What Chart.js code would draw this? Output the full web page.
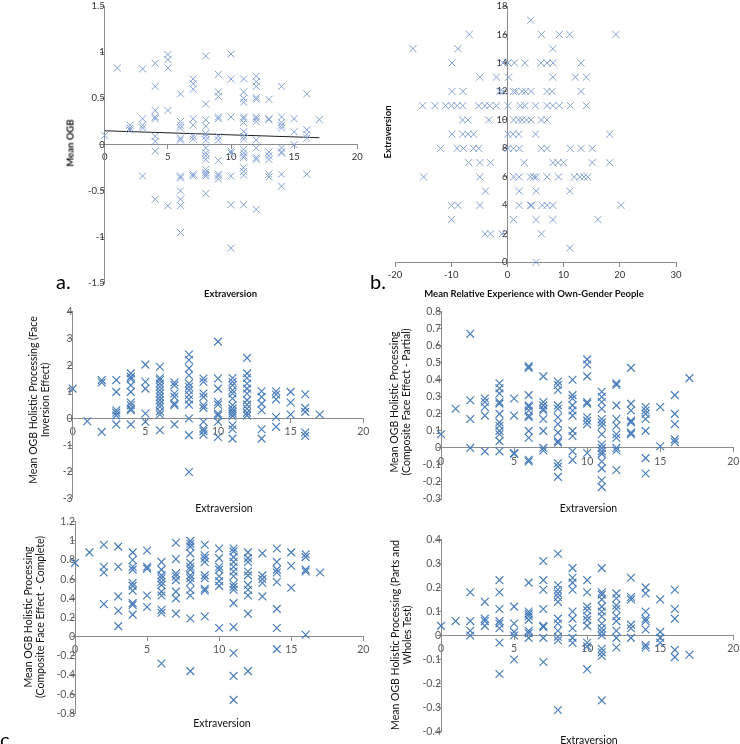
<!DOCTYPE html>
<html>
<head>
<meta charset="utf-8">
<script src="https://cdn.jsdelivr.net/npm/chart.js@4.4.1/dist/chart.umd.min.js"></script>
<style>
  body { margin: 0; background: #fff; width: 740px; height: 744px; overflow: hidden; position: relative; font-family: Lato, sans-serif; }
  canvas { position: absolute; }
  .t { position: absolute; white-space: nowrap; transform: translate(-50%, -50%); color: #000; }
  .v { transform: translate(-50%, -50%) rotate(-90deg); text-align: center; }
  .b { font-weight: bold; font-size: 9.5px; color: #111; }
  .n { font-size: 10.5px; line-height: 12px; color: #111; }
  .tag { position: absolute; font-size: 20px; line-height: 20px; color: #000; }
</style>
</head>
<body>
<canvas id="ogb"></canvas>
<canvas id="exp"></canvas>
<canvas id="inv"></canvas>
<canvas id="part"></canvas>
<canvas id="comp"></canvas>
<canvas id="pw"></canvas>

<div class="t v b" style="left:69.5px; top:143px">Mean OGB</div>
<div class="t b" style="left:230.5px; top:292.5px">Extraversion</div>
<div class="tag" style="left:56px; top:271px">a.</div>

<div class="t v b" style="left:386.5px; top:132px">Extraversion</div>
<div class="t b" style="left:534px; top:292.5px">Mean Relative Experience with Own-Gender People</div>
<div class="tag" style="left:370px; top:271px">b.</div>

<div class="t v n" style="left:38.5px; top:400px">Mean OGB Holistic Processing (Face<br>Inversion Effect)</div>
<div class="t n" style="left:224px; top:508px">Extraversion</div>

<div class="t v n" style="left:400px; top:402px">Mean OGB Holistic Processing<br>(Composite Face Effect - Partial)</div>
<div class="t n" style="left:588.5px; top:507.5px">Extraversion</div>

<div class="t v n" style="left:34px; top:617px">Mean OGB Holistic Processing<br>(Composite Face Effect - Complete)</div>
<div class="t n" style="left:222px; top:722.5px">Extraversion</div>
<div class="tag" style="left:0px; top:729px">c.</div>

<div class="t v n" style="left:400.5px; top:635px">Mean OGB Holistic Processing (Parts and<br>Wholes Test)</div>
<div class="t n" style="left:589px; top:740px">Extraversion</div>

<script>
// every group below is indexed by extraversion score (0..17)
const ogbMean = [
  [0.1], [0.83], [0.21, 0.18, 0.16], [0.82, 0.28, 0.21, 0.18, -0.34],
  [0.88, 0.63, 0.37, 0.3, 0.28, 0.09, 0.035, -0.07, -0.59],
  [0.975, 0.92, 0.83, 0.37, -0.66],
  [0.55, 0.25, 0.21, 0.18, 0.07, 0.05, -0.34, -0.36, -0.5, -0.59, -0.66, -0.95],
  [0.71, 0.66, 0.6, 0.28, 0.21, 0.09, 0.06, -0.32, -0.34],
  [0.96, 0.44, 0.27, 0.2, 0.12, 0.09, 0.05, -0.035, -0.09, -0.12, -0.16, -0.27, -0.3, -0.32, -0.34, -0.53],
  [0.76, 0.57, 0.52, 0.3, 0.28, 0.09, 0.05, -0.17, -0.32, -0.34, -0.37],
  [0.98, 0.71, 0.3, -0.07, -0.09, -0.34, -0.65, -1.12],
  [0.71, 0.57, 0.5, 0.46, 0.3, 0.28, 0.24, 0.14, 0.09, 0.06, -0.05, -0.09, -0.12, -0.14, -0.25, -0.29, -0.33, -0.65],
  [0.74, 0.68, 0.63, 0.51, 0.49, 0.3, 0.28, 0.25, 0.05, -0.035, -0.14, -0.16, -0.7],
  [0.49, 0.28, 0.27, -0.08, -0.12, -0.16, -0.32, -0.35],
  [0.63, 0.3, 0.24, 0.21, 0.18, -0.035, -0.08, -0.09, -0.32, -0.45],
  [0.28, 0.14, 0.0],
  [0.55, 0.16, 0.11, 0.07, -0.32],
  [0.27]
]
const ogbTrend = [{ x: 0, y: 0.15 }, { x: 17, y: 0.075 }]

// relative experience values for each extraversion score
const relExperience = [
  [5.1], [11.1], [-4.0, -3.0, -0.95, 6.05], [-9.95, 1.1, 5.1, 8.1, 16.1],
  [-9.95, -8.8, -4.9, 2.1, 4.1, 4.3, 6.2, 7.05, 8.1, 20.2],
  [-3.9, 2.1, 5.1, 11.1],
  [-14.9, -4.9, 1.1, 2.1, 4.1, 4.7, 5.1, 7.05, 9.1, 11.9, 12.9, 13.6, 14.3],
  [-6.9, -4.9, -3.0, 3.0, 8.1, 9.0, 10.0, 15.1, 18.2],
  [-11.9, -8.95, -7.8, -6.0, -5.1, 0.1, 1.1, 2.1, 6.05, 7.05, 11.2, 13.1, 15.1],
  [-9.85, -7.95, -7.0, -6.0, 0.1, 1.0, 2.0, 5.0, 18.2],
  [-7.95, -7.0, -3.3, 1.1, 2.0, 2.6, 3.4, 4.2, 6.05, 7.05],
  [-15.1, -12.9, -11.0, -9.95, -8.95, -7.95, -5.1, -4.0, -3.15, -1.95, 0.1, 2.3, 3.1, 5.0, 7.05, 8.1, 9.25, 11.2, 14.05],
  [-9.85, -7.9, -1.35, -0.77, 1.1, 1.5, 2.6, 3.2, 4.2, 7.05, 7.95, 13.1],
  [-4.9, -1.95, 0.2, 8.1, 12.1, 14.05],
  [-9.85, -0.77, 0.1, 1.25, 3.1, 6.0, 7.05, 8.1, 13.1],
  [-16.8, -8.8, 8.1],
  [-6.8, 6.05, 9.25, 11.1, 19.3],
  [4.15]
]

const faceInversion = [
  [1.12], [-0.1], [1.44, 1.35, -0.5], [1.44, 1.0, 0.31, 0.22, 0.12, -0.22],
  [1.69, 1.56, 1.48, 1.25, 1.0, 0.6, 0.5, 0.37, 0.31, -0.22],
  [2.02, 1.38, 1.12, 0.19, -0.12],
  [1.94, 1.52, 1.44, 1.31, 1.19, 1.06, 0.94, 0.81, 0.69, 0.56, 0.44, 0.27, 0.15, -0.44],
  [1.35, 1.25, 0.94, 0.81, 0.56, 0.5, -0.22],
  [2.4, 2.19, 1.88, 1.62, 1.31, 1.19, 1.06, 0.88, 0.72, 0.52, 0.0, -0.62, -2.0],
  [1.5, 1.38, 0.94, 0.81, 0.5, 0.4, -0.12, -0.38, -0.47, -0.6],
  [2.88, 1.5, 1.12, 0.62, 0.52, 0.19, 0.12, -0.12, -0.69],
  [1.52, 1.38, 1.25, 1.06, 0.94, 0.75, 0.5, 0.37, 0.27, 0.19, 0.1, -0.25, -0.4, -0.75],
  [2.27, 1.69, 1.52, 1.31, 1.12, 0.94, 0.69, 0.52, 0.37, 0.22, 0.12],
  [1.02, 0.81, 0.56, 0.31, -0.4, -0.75],
  [1.02, 0.9, 0.72, 0.06, -0.31],
  [1.0, 0.6, 0.15],
  [0.91, 0.4, 0.25, -0.52, -0.65],
  [0.15]
]

const compositePartial = [
  [0.08], [0.23], [0.67, 0.28, 0.17, 0.0], [0.29, 0.27, 0.24, 0.19, -0.02],
  [0.38, 0.35, 0.32, 0.27, 0.26, 0.2, 0.15, 0.13, 0.1, 0.08, 0.04, -0.02],
  [0.29, 0.19, -0.03, -0.035],
  [0.48, 0.47, 0.31, 0.25, 0.24, 0.22, 0.19, 0.18, 0.1, 0.06, -0.07, -0.08],
  [0.42, 0.27, 0.25, 0.23, 0.22, 0.17, 0.1, 0.0, -0.015],
  [0.39, 0.37, 0.34, 0.25, 0.23, 0.18, 0.14, 0.09, 0.04, 0.03, -0.09, -0.11, -0.17],
  [0.4, 0.31, 0.29, 0.25, 0.22, 0.19, 0.1, 0.07, -0.02, -0.07],
  [0.52, 0.49, 0.42, 0.27, 0.26, 0.18, 0.16, 0.14, -0.03],
  [0.33, 0.3, 0.27, 0.23, 0.17, 0.15, 0.13, 0.08, 0.02, 0.0, -0.02, -0.035, -0.08, -0.12, -0.19, -0.23],
  [0.38, 0.37, 0.25, 0.17, 0.13, 0.08, 0.06, 0.0, -0.015, -0.13],
  [0.47, 0.26, 0.22, 0.16, 0.15, 0.09, 0.08],
  [0.24, 0.22, 0.2, 0.17, 0.1, -0.06, -0.15],
  [0.24, 0.01],
  [0.31, 0.2, 0.14, 0.05, 0.035],
  [0.41]
]

const compositeComplete = [
  [0.77], [0.88], [0.96, 0.73, 0.67, 0.34], [0.94, 0.73, 0.42, 0.27, 0.11],
  [0.88, 0.8, 0.73, 0.7, 0.56, 0.53, 0.48, 0.35, 0.33, 0.23],
  [0.9, 0.73, 0.71, 0.43, 0.31],
  [0.78, 0.7, 0.64, 0.61, 0.57, 0.54, 0.47, 0.43, 0.28, 0.25, -0.28],
  [0.98, 0.81, 0.66, 0.63, 0.59, 0.47, 0.4, 0.24],
  [1.0, 0.97, 0.94, 0.87, 0.77, 0.73, 0.7, 0.64, 0.61, 0.57, 0.49, 0.43, 0.19, -0.36],
  [0.96, 0.85, 0.82, 0.78, 0.64, 0.61, 0.5, 0.48, 0.21],
  [0.92, 0.82, 0.73, 0.7, 0.63, 0.58, 0.53, 0.09],
  [0.92, 0.89, 0.83, 0.78, 0.73, 0.68, 0.63, 0.55, 0.52, 0.49, 0.35, 0.1, -0.17, -0.41, -0.66],
  [0.88, 0.82, 0.78, 0.68, 0.64, 0.54, 0.49, 0.43, 0.24, -0.36],
  [0.87, 0.64, 0.6, 0.56, 0.42],
  [0.92, 0.78, 0.7, 0.67, 0.57, 0.29, 0.09, -0.13],
  [0.88, 0.74, 0.51],
  [0.86, 0.83, 0.7, 0.68, 0.02],
  [0.67]
]

const partsWholes = [
  [0.04], [0.06], [0.18, 0.06, 0.02, 0.0], [0.14, 0.07, 0.06, 0.04],
  [0.23, 0.18, 0.11, 0.06, 0.05, 0.03, -0.03, -0.16],
  [0.12, 0.05, 0.015, 0.0, -0.1],
  [0.22, 0.1, 0.09, 0.08, 0.065, 0.02, 0.01, -0.01],
  [0.31, 0.23, 0.19, 0.11, 0.04, 0.035, -0.01, -0.11],
  [0.34, 0.21, 0.19, 0.175, 0.16, 0.14, 0.07, 0.05, 0.02, -0.005, -0.02, -0.31],
  [0.28, 0.24, 0.22, 0.19, 0.1, 0.07, 0.03, -0.01, -0.03],
  [0.23, 0.18, 0.12, 0.105, 0.08, 0.065, 0.04, -0.03, -0.045, -0.14],
  [0.28, 0.18, 0.17, 0.15, 0.12, 0.1, 0.08, 0.05, 0.03, 0.015, 0.0, -0.055, -0.07, -0.085, -0.27],
  [0.175, 0.155, 0.125, 0.11, 0.08, 0.06, 0.02, -0.01, -0.05],
  [0.24, 0.16, 0.15, 0.045, 0.03, -0.01],
  [0.2, 0.175, 0.1, 0.07, 0.06, 0.025, -0.04, -0.05],
  [0.15, 0.015, -0.01, -0.03],
  [0.19, 0.11, 0.07, -0.06, -0.09],
  [-0.08]
]

Chart.defaults.font.family = 'Lato, sans-serif'

const byScoreX = (groups) => groups.flatMap((ys, x) => ys.map((y) => ({ x, y })))
const byScoreY = (groups) => groups.flatMap((xs, y) => xs.map((x) => ({ x, y })))

// axis boxes take no room; the chart area is set straight from padding
const noRoom = (s) => {
  if (s.isHorizontal()) s.height = 0
  else s.width = 0
  s.paddingLeft = s.paddingRight = s.paddingTop = s.paddingBottom = 0
}
const fmt = (v) => String(Math.round(v * 100) / 100)

function panel(id, box, area, cfg) {
  const canvas = document.getElementById(id)
  canvas.width = box.w
  canvas.height = box.h
  canvas.style.left = box.x + 'px'
  canvas.style.top = box.y + 'px'
  const axisColor = '#8c8c8c'
  const tickFont = { size: cfg.tickSize, family: 'Lato, sans-serif' }
  const datasets = [{
    data: cfg.points,
    pointStyle: 'crossRot',
    pointRadius: cfg.radius,
    pointBorderColor: cfg.color,
    pointBorderWidth: cfg.lineW,
    pointHoverRadius: cfg.radius,
    clip: false,
  }]
  if (cfg.trend) {
    datasets.push({
      type: 'line',
      data: cfg.trend,
      showLine: true,
      borderColor: '#1f1f1f',
      borderWidth: 1,
      pointRadius: 0,
      clip: false,
    })
  }
  return new Chart(canvas, {
    type: 'scatter',
    data: { datasets },
    options: {
      responsive: false,
      animation: false,
      devicePixelRatio: 1,
      events: [],
      layout: {
        padding: {
          left: area.l - box.x,
          top: area.t - box.y,
          right: box.x + box.w - area.r,
          bottom: box.y + box.h - area.b,
        },
      },
      plugins: { legend: { display: false }, tooltip: { enabled: false } },
      scales: {
        x: {
          type: 'linear',
          min: cfg.x[0],
          max: cfg.x[1],
          position: { y: 0 },
          afterFit: noRoom,
          ticks: { stepSize: cfg.x[2], autoSkip: false, maxRotation: 0, padding: 3, color: cfg.tickColor, font: tickFont, callback: fmt },
          grid: { drawOnChartArea: false, tickLength: 4, color: axisColor },
          border: { color: axisColor },
        },
        y: {
          type: 'linear',
          min: cfg.y[0],
          max: cfg.y[1],
          position: { x: cfg.yAt ?? cfg.x[0] },
          afterFit: noRoom,
          ticks: { stepSize: cfg.y[2], autoSkip: false, padding: 5, color: cfg.tickColor, font: tickFont, callback: fmt },
          grid: { drawOnChartArea: false, tickLength: 4, color: axisColor },
          border: { color: axisColor },
        },
      },
    },
  })
}

const light = { color: '#82a0d2', radius: 5, lineW: 1, tickSize: 9.5, tickColor: '#333333' }
const dark = { color: '#4a7ebb', radius: 5.5, lineW: 1.2, tickSize: 10.5, tickColor: '#595959' }

panel('ogb', { x: 0, y: 0, w: 370, h: 310 }, { l: 104.7, r: 357.3, t: 3.3, b: 283.3 },
  { ...light, points: byScoreX(ogbMean), trend: ogbTrend, x: [0, 20, 5], y: [-1.5, 1.5, 0.5] })

panel('exp', { x: 370, y: 0, w: 370, h: 310 }, { l: 395, r: 676, t: 3.3, b: 262.3 },
  { ...light, points: byScoreY(relExperience), x: [-20, 30, 10], y: [0, 18, 2], yAt: 0 })

panel('inv', { x: 0, y: 305, w: 370, h: 205 }, { l: 72.7, r: 374, t: 311.7, b: 498.7 },
  { ...dark, points: byScoreX(faceInversion), x: [0, 20, 5], y: [-3, 4, 1] })

panel('part', { x: 370, y: 305, w: 370, h: 205 }, { l: 441, r: 736.7, t: 311.2, b: 499 },
  { ...dark, points: byScoreX(compositePartial), x: [0, 20, 5], y: [-0.3, 0.8, 0.1] })

panel('comp', { x: 0, y: 512, w: 370, h: 232 }, { l: 75, r: 369, t: 521.7, b: 713.3 },
  { ...dark, points: byScoreX(compositeComplete), x: [0, 20, 5], y: [-0.8, 1.2, 0.2] })

panel('pw', { x: 370, y: 512, w: 370, h: 232 }, { l: 441, r: 736.7, t: 539.3, b: 731.7 },
  { ...dark, points: byScoreX(partsWholes), x: [0, 20, 5], y: [-0.4, 0.4, 0.1] })
</script>
</body>
</html>
